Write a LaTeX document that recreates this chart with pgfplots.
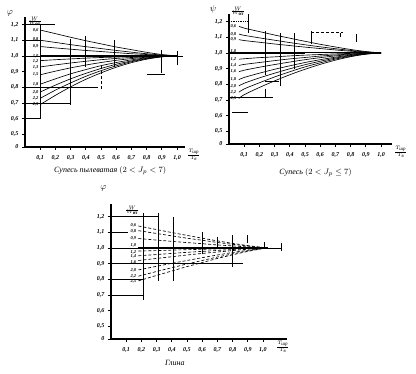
\documentclass[border=0pt]{standalone}
\usepackage{amsmath}
\usepackage{fontspec}
\setmainfont{Liberation Serif}
\usepackage{pgfplots}
\usepackage{pgfplotstable}
\pgfplotsset{compat=1.18}

\pgfplotstableread{
x     c1    c2    c3    c4    c5    c6    c7    c8    c9    c10   c11
0.1   1.165 1.100 1.060 1.000 0.970 0.930 0.880 0.820 0.770 0.730 0.690
0.2   1.142 1.086 1.051 1.000 0.976 0.943 0.903 0.854 0.814 0.782 0.749
0.3   1.119 1.072 1.043 1.000 0.981 0.955 0.924 0.886 0.854 0.828 0.803
0.4   1.097 1.059 1.035 1.000 0.986 0.966 0.942 0.913 0.889 0.870 0.851
0.5   1.077 1.047 1.028 1.000 0.990 0.976 0.958 0.938 0.920 0.906 0.892
0.6   1.057 1.035 1.021 1.000 0.993 0.984 0.972 0.958 0.947 0.937 0.928
0.7   1.040 1.024 1.014 1.000 0.996 0.990 0.983 0.975 0.968 0.963 0.957
0.8   1.023 1.014 1.009 1.000 0.998 0.995 0.992 0.988 0.985 0.982 0.979
0.9   1.009 1.006 1.003 1.000 0.999 0.999 0.998 0.997 0.996 0.995 0.994
1.0   1.000 1.000 1.000 1.000 1.000 1.000 1.000 1.000 1.000 1.000 1.000
}\dataA

\pgfplotstableread{
x     c1    c2    c3    c4    c5    c6    c7    c8    c9    c10   c11
0.065 1.170 1.120 1.085 1.000 0.960 0.920 0.880 0.830 0.790 0.750 0.710
0.1   1.158 1.112 1.079 1.000 0.963 0.927 0.890 0.844 0.807 0.771 0.734
0.2   1.136 1.096 1.068 1.000 0.970 0.939 0.909 0.871 0.841 0.810 0.780
0.3   1.114 1.081 1.057 1.000 0.975 0.951 0.926 0.896 0.871 0.847 0.822
0.4   1.094 1.066 1.047 1.000 0.981 0.962 0.942 0.918 0.899 0.880 0.861
0.5   1.074 1.052 1.037 1.000 0.986 0.971 0.957 0.939 0.925 0.911 0.896
0.6   1.055 1.039 1.028 1.000 0.990 0.980 0.970 0.957 0.947 0.937 0.927
0.7   1.038 1.027 1.019 1.000 0.994 0.987 0.981 0.973 0.967 0.961 0.954
0.8   1.022 1.016 1.011 1.000 0.997 0.993 0.990 0.986 0.983 0.979 0.976
0.9   1.009 1.006 1.005 1.000 0.999 0.998 0.997 0.995 0.994 0.993 0.992
1.0   1.000 1.000 1.000 1.000 1.000 1.000 1.000 1.000 1.000 1.000 1.000
}\dataB

\pgfplotstableread{
x     c1    c2    c3    c4    c5    c6    c7    c8    c9    c10
0.18  1.140 1.110 1.060 1.000 0.980 0.950 0.920 0.860 0.820 0.790
0.3   1.117 1.092 1.050 1.000 0.983 0.958 0.933 0.883 0.850 0.825
0.4   1.098 1.077 1.042 1.000 0.986 0.965 0.944 0.902 0.874 0.853
0.5   1.080 1.062 1.034 1.000 0.989 0.972 0.955 0.920 0.898 0.881
0.6   1.062 1.049 1.027 1.000 0.991 0.978 0.965 0.938 0.920 0.907
0.7   1.045 1.035 1.019 1.000 0.994 0.984 0.974 0.955 0.942 0.933
0.8   1.029 1.023 1.013 1.000 0.996 0.990 0.983 0.971 0.962 0.956
0.9   1.015 1.012 1.006 1.000 0.998 0.995 0.992 0.985 0.981 0.978
1.0   1.003 1.002 1.001 1.000 1.000 0.999 0.999 0.997 0.997 0.996
1.03  1.000 1.000 1.000 1.000 1.000 1.000 1.000 1.000 1.000 1.000
}\dataC

\pgfplotsset{
  base/.style={
    x=152pt, y=157pt, xmin=0, ymin=0.42, ymax=1.25,
    axis lines=left, axis line style={line width=1.1pt,-},
    clip=false, anchor=south west,
    xtick={0.1,0.2,0.3,0.4,0.5,0.6,0.7,0.8,0.9,1.0},
    xticklabels={{0,1},{0,2},{0,3},{0,4},{0,5},{0,6},{0,7},{0,8},{0,9},{1,0}},
    ytick={0.42,0.5,0.6,0.7,0.8,0.9,1.0,1.1,1.2},
    yticklabels={0,{0,5},{0,6},{0,7},{0,8},{0,9},{1,0},{1,1},{1,2}},
    x tick label style={font=\fontsize{6}{6}\selectfont\itshape\bfseries, yshift=-2pt},
    y tick label style={font=\fontsize{6}{6}\selectfont\itshape\bfseries},
    tick style={black, line width=0.7pt},
    major tick length=3pt, tick align=outside,
    every axis plot/.append style={black, line width=0.65pt, mark=none},
  },
  seg/.style={black, line width=0.75pt},
}
\tikzset{lab/.style={font=\fontsize{4.5}{5}\selectfont\itshape\bfseries, inner sep=0.4pt}}

\begin{document}
\begin{tikzpicture}
\useasboundingbox (0,0) rectangle (416pt,374pt);

% ---------------- plot 1 ----------------
\begin{axis}[base, at={(25pt,227pt)}, xmax=1.05]
\foreach \c in {c1,c2,c3,c5,c6,c7,c8,c9,c10,c11}{
  \addplot[black, smooth] table[x=x,y=\c]{\dataA};
}
\addplot[black, line width=1.1pt] table[x=x,y=c4]{\dataA};
\addplot[seg] coordinates {(0.1,0.6) (0.1,1.2)};
\addplot[seg] coordinates {(0.3,0.69) (0.3,1.11)};
\addplot[seg] coordinates {(0.4,0.93) (0.4,1.13)};
\addplot[seg, densely dashed] coordinates {(0.5,0.79) (0.5,0.94)};
\addplot[seg] coordinates {(0.59,0.93) (0.59,1.10)};
\addplot[seg] coordinates {(0.9,0.89) (0.9,1.04)};
\addplot[seg] coordinates {(1.0,0.94) (1.0,1.03)};
\addplot[seg] coordinates {(0,1.2) (0.2,1.2)};
\addplot[seg] coordinates {(0,1.1) (0.1,1.1)};
\addplot[seg] coordinates {(0,1.0) (1.04,1.0)};
\addplot[seg] coordinates {(0,0.8) (0.48,0.8)};
\addplot[seg] coordinates {(0,0.7) (0.3,0.7)};
\addplot[seg] coordinates {(0,0.6) (0.1,0.6)};
\addplot[seg] coordinates {(0.8,0.88) (0.92,0.88)};
\addplot[black, line width=1.8pt] coordinates {(0,0.42) (0,0.56)};
\node[lab,anchor=east] at (axis cs:0.092,1.165) {0,6};
\node[lab,anchor=east] at (axis cs:0.092,1.105) {0,8};
\node[lab,anchor=east] at (axis cs:0.092,1.06) {0,9};
\node[lab,anchor=east] at (axis cs:0.092,1.0) {1,0};
\node[lab,anchor=east] at (axis cs:0.092,0.965) {1,2};
\node[lab,anchor=east] at (axis cs:0.092,0.93) {1,3};
\node[lab,anchor=east] at (axis cs:0.092,0.88) {1,5};
\node[lab,anchor=east] at (axis cs:0.092,0.82) {1,8};
\node[lab,anchor=east] at (axis cs:0.092,0.77) {2,0};
\node[lab,anchor=east] at (axis cs:0.092,0.73) {2,2};
\node[lab,anchor=east] at (axis cs:0.092,0.69) {2,5};
\node[font=\small] at (axis cs:-0.1,1.27) {$\varphi$};
\node[font=\fontsize{5}{5}\selectfont\bfseries] at (axis cs:0.065,1.22) {$\frac{W}{W_\text{от}}$};
\node[font=\fontsize{6}{6}\selectfont\itshape] at (axis cs:1.11,0.37) {$\frac{T_\text{шр}}{T_\text{в}}$};
\node[font=\footnotesize\itshape] at (axis cs:0.56,0.27) {Супесь пылеватая $(2<J_p<7)$};
\end{axis}

% ---------------- plot 2 ----------------
\begin{axis}[base, at={(229pt,230pt)}, xmax=1.07]
\foreach \c in {c1,c2,c3,c5,c6,c7,c8,c9,c10,c11}{
  \addplot[black, smooth] table[x=x,y=\c]{\dataB};
}
\addplot[black, line width=1.1pt] table[x=x,y=c4]{\dataB};
\addplot[seg] coordinates {(0.125,1.13) (0.125,1.25)};
\addplot[seg] coordinates {(0.24,0.86) (0.24,1.14)};
\addplot[seg] coordinates {(0.24,0.72) (0.24,0.77)};
\addplot[seg] coordinates {(0.34,0.79) (0.34,1.13)};
\addplot[seg] coordinates {(0.43,0.90) (0.43,1.13)};
\addplot[seg] coordinates {(0.54,1.06) (0.54,1.14)};
\addplot[seg] coordinates {(0.73,1.10) (0.73,1.13)};
\addplot[seg] coordinates {(0.84,1.07) (0.84,1.12)};
\addplot[seg] coordinates {(0,0.72) (0.29,0.72)};
\addplot[black, line width=1.3pt] coordinates {(0.02,0.62) (0.125,0.62)};
\addplot[seg, densely dashed] coordinates {(0.54,1.13) (0.75,1.13)};
\addplot[black, line width=1.2pt] coordinates {(0,1.0) (0.5,1.0)};
\addplot[black, line width=1.2pt] coordinates {(0.24,0.82) (0.33,0.82)};
\addplot[seg, densely dotted] coordinates {(0,1.2) (0.13,1.2)};
\addplot[black, line width=1.8pt] coordinates {(0,0.42) (0,0.56)};
\addplot[black, line width=1.3pt] coordinates {(0.4,0.42) (0.6,0.42)};
\addplot[black, line width=1.3pt] coordinates {(0.9,0.42) (1.07,0.42)};
\node[lab,anchor=west] at (axis cs:0.006,1.17) {0,6};
\node[lab,anchor=west] at (axis cs:0.006,1.12) {0,8};
\node[lab,anchor=west] at (axis cs:0.006,1.085) {0,9};
\node[lab,anchor=west] at (axis cs:0.006,1.01) {1,0};
\node[lab,anchor=west] at (axis cs:0.006,0.96) {1,2};
\node[lab,anchor=west] at (axis cs:0.006,0.92) {1,4};
\node[lab,anchor=west] at (axis cs:0.006,0.88) {1,6};
\node[lab,anchor=west] at (axis cs:0.006,0.83) {1,8};
\node[lab,anchor=west] at (axis cs:0.006,0.79) {2,0};
\node[lab,anchor=west] at (axis cs:0.006,0.75) {2,2};
\node[lab,anchor=west] at (axis cs:0.006,0.71) {2,5};
\node[font=\small] at (axis cs:-0.105,1.28) {$\psi$};
\node[font=\fontsize{5}{5}\selectfont\bfseries] at (axis cs:0.06,1.265) {$\frac{W}{W_\text{от}}$};
\node[font=\fontsize{6}{6}\selectfont\itshape] at (axis cs:1.13,0.37) {$\frac{T_\text{шр}}{T_\text{в}}$};
\node[font=\footnotesize\itshape] at (axis cs:0.57,0.24) {Супесь $(2<J_p\leq 7)$};
\end{axis}

% ---------------- plot 3 ----------------
\begin{axis}[base, at={(111pt,35pt)}, xmax=1.16, ymax=1.28]
\foreach \c in {c1,c2,c3,c5,c6,c7,c8,c9,c10}{
  \addplot[black, smooth, densely dashed] table[x=x,y=\c]{\dataC};
}
\addplot[black, line width=0.9pt] table[x=x,y=c4]{\dataC};
\addplot[seg] coordinates {(0.21,0.67) (0.21,1.22)};
\addplot[seg] coordinates {(0.31,0.79) (0.31,1.22)};
\addplot[seg] coordinates {(0.41,0.79) (0.41,1.2)};
\addplot[seg] coordinates {(0.60,0.96) (0.60,1.10)};
\addplot[seg] coordinates {(0.70,1.0) (0.70,1.07)};
\addplot[seg] coordinates {(0.80,0.88) (0.80,1.08)};
\addplot[seg] coordinates {(0.90,1.03) (0.90,1.08)};
\addplot[seg] coordinates {(1.01,1.0) (1.01,1.04)};
\addplot[seg] coordinates {(1.12,0.98) (1.12,1.03)};
\addplot[seg] coordinates {(0,1.2) (0.31,1.2)};
\addplot[seg] coordinates {(0,1.1) (0.11,1.1)};
\addplot[seg] coordinates {(0,1.0) (1.12,1.0)};
\addplot[seg] coordinates {(0,0.9) (0.87,0.9)};
\addplot[seg] coordinates {(0,0.8) (0.21,0.8)};
\addplot[seg] coordinates {(0,0.7) (0.21,0.7)};
\node[lab,anchor=east] at (axis cs:0.17,1.145) {0,6};
\node[lab,anchor=east] at (axis cs:0.17,1.105) {0,8};
\node[lab,anchor=east] at (axis cs:0.17,1.06) {0,9};
\node[lab,anchor=east] at (axis cs:0.17,1.015) {1,0};
\node[lab,anchor=east] at (axis cs:0.17,0.975) {1,2};
\node[lab,anchor=east] at (axis cs:0.17,0.945) {1,4};
\node[lab,anchor=east] at (axis cs:0.17,0.91) {1,6};
\node[lab,anchor=east] at (axis cs:0.17,0.86) {2,0};
\node[lab,anchor=east] at (axis cs:0.17,0.82) {2,2};
\node[lab,anchor=east] at (axis cs:0.17,0.785) {2,5};
\node[font=\small] at (axis cs:-0.05,1.38) {$\varphi$};
\node[font=\fontsize{5}{5}\selectfont\bfseries] at (axis cs:0.14,1.24) {$\frac{W}{W_\text{от}}$};
\node[font=\fontsize{6}{6}\selectfont\itshape] at (axis cs:1.13,0.37) {$\frac{T_\text{шр}}{T_\text{в}}$};
\node[font=\footnotesize\itshape] at (axis cs:0.42,0.27) {Глина};
\end{axis}
\end{tikzpicture}
\end{document}
